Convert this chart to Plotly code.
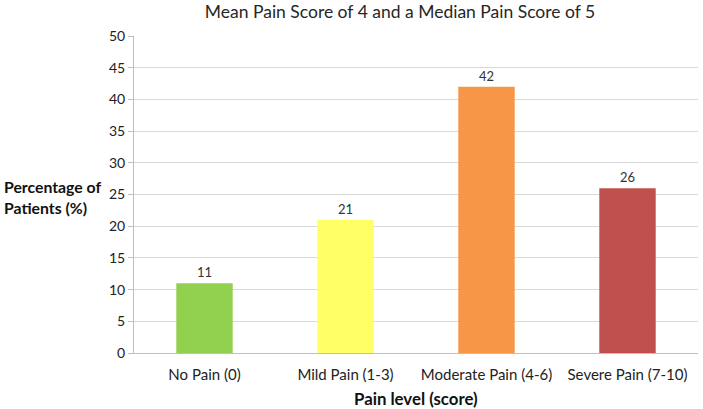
import plotly.graph_objects as go

categories = ["No Pain (0)", "Mild Pain (1-3)", "Moderate Pain (4-6)", "Severe Pain (7-10)"]
values = [11, 21, 42, 26]
colors = ["#92D050", "#FFFF66", "#F79646", "#C0504D"]
title_text = "Mean Pain Score of 4 and a Median Pain Score of 5"
y_title = "<b>Percentage of<br>Patients (%)</b>"
x_title = "<b>Pain level (score)</b>"

font_family = "Lato, Open Sans, sans-serif"

fig = go.Figure(go.Bar(
    x=categories, y=values, marker=dict(color=colors, line=dict(width=0)),
    width=0.4, text=values, textposition="outside",
    textfont=dict(size=13, color="#333333", family=font_family),
    cliponaxis=False,
))

fig.update_layout(
    width=703, height=409,
    margin=dict(l=134, r=5, t=36, b=56),
    paper_bgcolor="white", plot_bgcolor="white",
    font=dict(family=font_family, size=13, color="#333333"),
    showlegend=False,
    title=dict(text=title_text, x=0.569, xanchor="center", y=0.972, yanchor="middle",
               font=dict(size=17.5, color="#262626", family=font_family)),
    xaxis=dict(showgrid=False, showline=True, linecolor="#BFBFBF", linewidth=1,
               ticks="", ticklabelstandoff=8, tickfont=dict(size=15, color="#222222")),
    yaxis=dict(range=[0, 50], dtick=5, showgrid=True, gridcolor="#D9D9D9", gridwidth=1,
               showline=True, linecolor="#BFBFBF", linewidth=1, ticks="outside",
               ticklen=5, tickcolor="#BFBFBF", zeroline=False,
               tickfont=dict(size=14, color="#222222")),
    annotations=[
        dict(text=y_title, xref="paper", yref="paper", x=-0.145, y=0.492, xanchor="center",
             yanchor="middle", showarrow=False, align="left",
             font=dict(size=15.8, color="#111111", family=font_family)),
        dict(text=x_title, xref="paper", yref="paper", x=0.5, y=-0.142, xanchor="center",
             yanchor="middle", showarrow=False,
             font=dict(size=16.8, color="#111111", family=font_family)),
    ],
)

fig.write_html("out.html", config={"displayModeBar": False},
               post_script="document.body.style.margin='0';")
